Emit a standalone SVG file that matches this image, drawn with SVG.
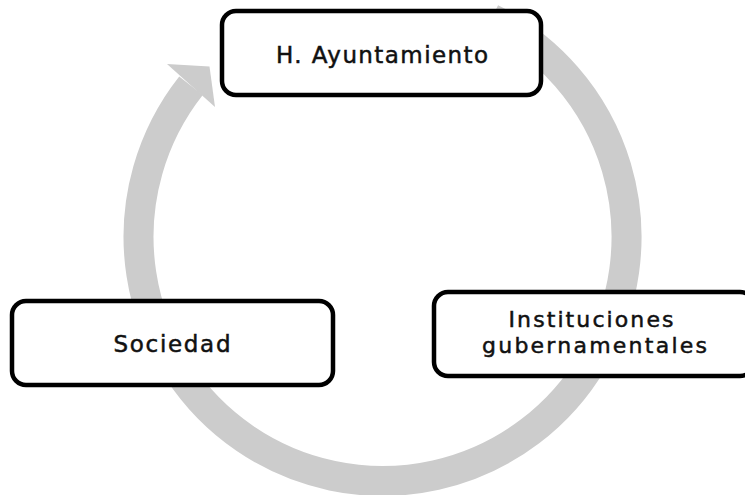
<svg xmlns="http://www.w3.org/2000/svg" width="745" height="495" viewBox="0 0 745 495">
<style>
.box{fill:#ffffff;stroke:#000000;stroke-width:4.5}
.lbl{font-family:"DejaVu Sans","Open Sans",sans-serif;font-weight:normal;font-size:23px;fill:#111111;stroke:#111111;stroke-width:0.5;text-anchor:middle}
.lbl2{font-size:22px}
.cycle{fill:none;stroke:#cccccc;stroke-width:30}
</style>
<rect width="745" height="495" fill="#ffffff"/>
<g id="connectors">
<path class="cycle" d="M491.4,18.6 A244,244 0 1 1 191,85.8"/>
<polygon points="167,64 209.5,66.5 215,107" fill="#cccccc"/>
</g>
<g id="node-ayuntamiento">
<rect class="box" x="222" y="11" width="319" height="84" rx="14"/>
<text class="lbl" x="382" y="63" textLength="212" lengthAdjust="spacing">H. Ayuntamiento</text>
</g>
<g id="node-sociedad">
<rect class="box" x="12" y="301" width="321" height="84" rx="14"/>
<text class="lbl" x="172" y="352" textLength="117" lengthAdjust="spacing">Sociedad</text>
</g>
<g id="node-instituciones">
<rect class="box" x="434" y="292" width="320" height="84" rx="14"/>
<text class="lbl lbl2" x="591" y="327" textLength="165" lengthAdjust="spacing">Instituciones</text>
<text class="lbl lbl2" x="594.5" y="353" textLength="225" lengthAdjust="spacing">gubernamentales</text>
</g>
</svg>
